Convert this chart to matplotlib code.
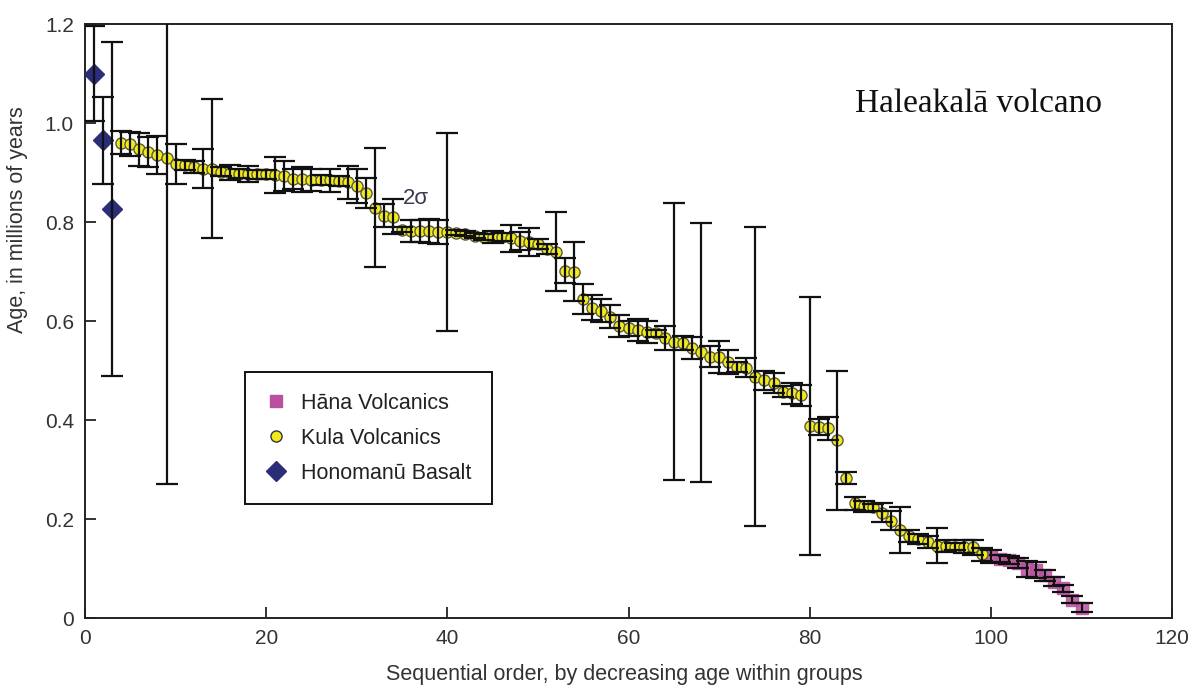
import matplotlib
matplotlib.use("Agg")
import matplotlib.pyplot as plt
from matplotlib.lines import Line2D

# Honomanū Basalt
hon_order = [1, 2, 3]
hon_age = [1.100, 0.965, 0.826]
hon_err = [0.095, 0.088, 0.338]

# Kula Volcanics
kula_order = list(range(4, 100))
kula_age = [
    0.960, 0.957, 0.947, 0.941, 0.935, 0.930, 0.917, 0.915, 0.912, 0.908,
    0.908, 0.902, 0.900, 0.898, 0.897, 0.896, 0.896, 0.895, 0.893, 0.887,
    0.886, 0.885, 0.884, 0.884, 0.882, 0.880, 0.873, 0.859, 0.829, 0.813,
    0.811, 0.784, 0.782, 0.782, 0.782, 0.780, 0.780, 0.778, 0.776, 0.772,
    0.770, 0.769, 0.769, 0.767, 0.762, 0.760, 0.755, 0.745, 0.740, 0.702,
    0.700, 0.644, 0.627, 0.621, 0.609, 0.590, 0.585, 0.582, 0.578, 0.575,
    0.566, 0.558, 0.556, 0.545, 0.537, 0.528, 0.527, 0.517, 0.508, 0.506,
    0.487, 0.480, 0.474, 0.457, 0.454, 0.450, 0.388, 0.386, 0.383, 0.359,
    0.283, 0.232, 0.226, 0.224, 0.213, 0.197, 0.178, 0.166, 0.159, 0.154,
    0.146, 0.146, 0.144, 0.144, 0.143, 0.129,
]
kula_err = [
    0.023, 0.024, 0.033, 0.030, 0.038, 0.660, 0.040, 0.010, 0.012, 0.040,
    0.140, 0.010, 0.016, 0.010, 0.017, 0.010, 0.010, 0.037, 0.030, 0.020,
    0.026, 0.023, 0.010, 0.024, 0.010, 0.034, 0.035, 0.030, 0.120, 0.024,
    0.036, 0.005, 0.022, 0.022, 0.024, 0.025, 0.200, 0.005, 0.005, 0.005,
    0.006, 0.012, 0.008, 0.027, 0.018, 0.028, 0.010, 0.010, 0.080, 0.025,
    0.060, 0.030, 0.025, 0.024, 0.024, 0.023, 0.016, 0.022, 0.022, 0.007,
    0.024, 0.280, 0.014, 0.022, 0.262, 0.021, 0.032, 0.024, 0.010, 0.020,
    0.302, 0.020, 0.020, 0.011, 0.021, 0.021, 0.260, 0.017, 0.024, 0.140,
    0.012, 0.013, 0.011, 0.007, 0.020, 0.019, 0.046, 0.012, 0.010, 0.012,
    0.035, 0.012, 0.007, 0.013, 0.015, 0.013,
]

# Hāna Volcanics
hana_order = list(range(100, 111))
hana_age = [0.125, 0.120, 0.117, 0.112, 0.099, 0.097, 0.086, 0.073, 0.060, 0.037, 0.021]
hana_err = [0.013, 0.007, 0.008, 0.010, 0.017, 0.016, 0.011, 0.009, 0.007, 0.007, 0.009]

x_ticks = [0, 20, 40, 60, 80, 100, 120]
y_ticks = [0, 0.2, 0.4, 0.6, 0.8, 1.0, 1.2]
y_tick_labels = ["0", "0.2", "0.4", "0.6", "0.8", "1.0", "1.2"]

HANA_C = "#b9519f"
KULA_C = "#f2ea1c"
KULA_EDGE = "#5a5a3a"
HON_C = "#2b2d78"
BAR_C = "#111111"

plt.rcParams["font.family"] = ["Liberation Sans", "DejaVu Sans"]

fig = plt.figure(figsize=(11.9, 6.86), dpi=100)
ax = fig.add_axes([0.0714, 0.0991, 0.9136, 0.8659])

ebar_kw = dict(fmt="none", ecolor=BAR_C, elinewidth=1.6, capsize=8,
               capthick=1.6, zorder=4)

# markers first, error bars drawn over them
ax.plot(hana_order, hana_age, "s", ms=9, color=HANA_C, mec=HANA_C, alpha=0.85, zorder=2)
ax.plot(kula_order, kula_age, "o", ms=8, color=KULA_C, mec=KULA_EDGE, mew=1.0, zorder=3)
ax.plot(hon_order, hon_age, "D", ms=10, color=HON_C, mec=HON_C, zorder=3)

ax.errorbar(hana_order, hana_age, yerr=hana_err, **ebar_kw)
ax.errorbar(kula_order, kula_age, yerr=kula_err, **ebar_kw)
ax.errorbar(hon_order, hon_age, yerr=hon_err, **ebar_kw)

ax.set_xlim(0, 120)
ax.set_ylim(0, 1.2)
ax.set_xticks(x_ticks)
ax.set_yticks(y_ticks)
ax.set_yticklabels(y_tick_labels)
ax.tick_params(direction="in", length=8, width=1.3, labelsize=15,
               labelcolor="#333333", color="#222222")
ax.tick_params(axis="x", pad=8)
ax.tick_params(axis="y", pad=8)
for s in ax.spines.values():
    s.set_linewidth(1.4)
    s.set_color("#222222")

ax.set_xlabel("Sequential order, by decreasing age within groups",
              fontsize=15.5, color="#333333")
ax.xaxis.set_label_coords(0.496, -0.078)
ax.set_ylabel("Age, in millions of years", fontsize=15.5, color="#333333")
ax.yaxis.set_label_coords(-0.052, 0.67)

ax.text(85.0, 1.038, "Haleakalā volcano", fontsize=24,
        family=["Liberation Serif", "DejaVu Serif"], color="#111111",
        va="center", ha="left")
ax.text(36.5, 0.848, "2σ", fontsize=16, color="#3a3a55", va="center", ha="center")

handles = [
    Line2D([], [], ls="none", marker="s", ms=8, color=HANA_C, mec=HANA_C),
    Line2D([], [], ls="none", marker="o", ms=8, color=KULA_C, mec="#333333", mew=1.0),
    Line2D([], [], ls="none", marker="D", ms=10, color=HON_C, mec=HON_C),
]
labels = ["Hāna Volcanics", "Kula Volcanics", "Honomanū Basalt"]
leg = ax.legend(handles, labels, loc="upper left", bbox_to_anchor=(0.147, 0.414),
                borderaxespad=0, fancybox=False, framealpha=1, fontsize=15.5,
                labelspacing=0.66, handlelength=1.0, handletextpad=0.65,
                borderpad=0.95)
leg.get_frame().set_edgecolor("#111111")
leg.get_frame().set_linewidth(1.4)
for t in leg.get_texts():
    t.set_color("#222222")

fig.savefig("out.png", dpi=100)
